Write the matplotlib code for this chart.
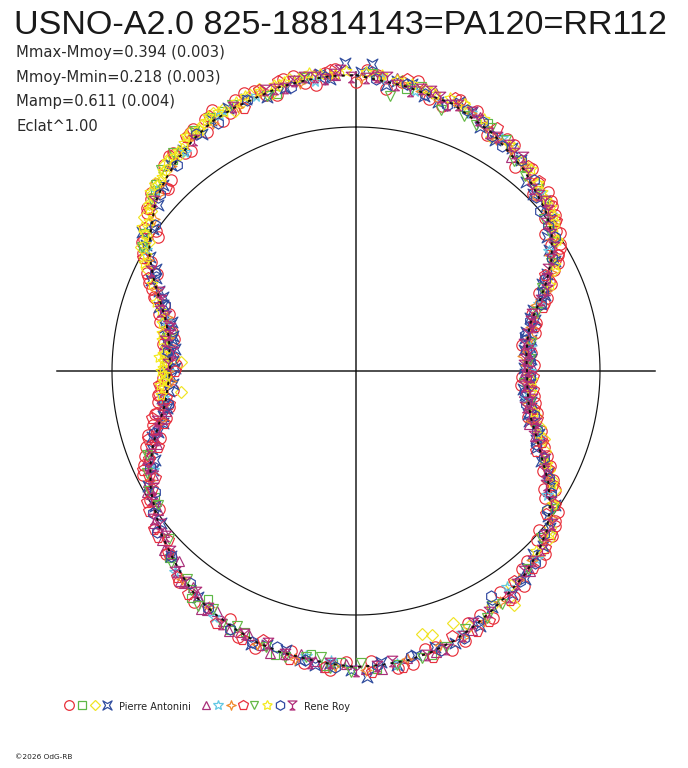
import numpy as np
import matplotlib
matplotlib.use("Agg")
import matplotlib.pyplot as plt
from matplotlib.path import Path

# ---------------- data (angle in degrees clockwise from top, radius = flux in px-like units) -----
title = "USNO-A2.0 825-18814143=PA120=RR112"
stats_lines = ["Mmax-Mmoy=0.394 (0.003)", "Mmoy-Mmin=0.218 (0.003)",
               "Mamp=0.611 (0.004)", "Eclat^1.00"]
observers = ["Pierre Antonini", "Rene Roy"]
footer = "\u00a92026 OdG-RB"

ref_circle_r = 244
axis_r = 299

mean_deg = [0, 10, 20, 30, 40, 45, 50, 55, 60, 65, 70, 75, 80, 85, 90, 95, 100, 105, 110, 115,
            120, 125, 130, 135, 140, 145, 150, 155, 160, 165, 170, 175, 180, 185, 190, 195, 200,
            205, 210, 215, 220, 225, 230, 235, 240, 245, 250, 255, 260, 265, 270, 275, 280, 285,
            290, 295, 300, 305, 310, 315, 320, 325, 330, 335, 340, 345, 350, 355]
mean_r = [296, 289, 284, 274, 262, 254, 248, 239, 226, 210, 194, 180, 174, 171, 171, 172, 175,
          181, 192, 205, 222, 237, 249, 257, 264, 269, 275, 281, 287, 291, 294, 295, 296, 294,
          292, 291, 289, 285, 281, 277, 269, 261, 254, 245, 237, 227, 216, 204, 194, 189, 186,
          187, 190, 197, 209, 224, 239, 250, 262, 270, 277, 283, 288, 290, 291, 294, 295, 296]

PA_circle = [(2,301),(6,284),(12,296),(18,279),(25,287),(33,277),(38,259),(44,262),(47,262),(50,256),
             (52,253),(54,233),(56,246),(58,240),(60,233),(62,229),(64,210),(66,214),(69,205),(72,185),
             (78,183),(84,176),(92,166),(98,180),(103,186),(108,195),(112,203),(116,216),(119,225),(122,222),
             (125,246),(128,252),(131,242),(134,263),(138,256),(142,273),(147,264),(151,282),(156,276),(161,295),
             (166,286),(172,300),(177,290),(185,300),(193,287),(200,295),(207,278),(215,282),(226,264),(235,240),
             (244,237),(248,228),(251,207),(253,218),(256,196),(258,205),(261,200),(264,184),(268,193),(272,180),
             (276,192),(280,185),(284,202),(287,196),(290,215),(293,225),(296,221),(299,243),(302,250),(305,244),
             (308,265),(311,271),(314,262),(317,281),(320,284),(323,275),(326,292),(329,294),(332,283),(336,297),
             (340,298),(344,287),(348,302),(352,289),(356,303),
             (0,289),(4,297),(9,293),(15,282),(21,290),(29,270),(35,276),(41,268),(45,250),(49,259),
             (51,243),(53,249),(55,244),(57,232),(59,238),(61,228),(63,222),(65,213),(67,199),(70,200),
             (75,186),(81,168),(88,178),(95,166),(100,182),(105,178),(110,197),(114,209),(118,212),(121,232),
             (124,228),(127,249),(130,256),(133,248),(136,265),(140,259),(145,276),(153,274),(158,291),(164,287),
             (169,298),(182,291),(190,297),(204,291),(220,275),(238,243),(246,232),(250,223),(255,210),(259,191),
             (263,199),(266,195),(270,191),(274,183),(278,195),(282,188),(286,205),(289,203),(292,220),(295,231),
             (298,232),(301,250),(304,239),(307,262),(310,268),(313,274),(316,266),(319,285),(322,277),(325,290),
             (328,282),(331,298),(334,287),(338,300),(342,290),(346,301),(350,292),(354,300)]
PA_square = [(10,286),(28,281),(95,176),(150,270),(176,299),(183,291),(189,287),(196,295),(203,284),
             (213,272),(225,265),(248,223),(312,271),(319,279),(333,292),(344,288),
             (40,265),(120,224),(165,294),(186,297),(206,288),(216,281),(238,237),(300,246),(326,288)]
PA_diamond = [(296,233),(300,248),(303,250),(306,262),(309,266),(313,275),(316,276),(319,284),(322,282),
              (325,291),(328,290),(331,295),(335,287),(339,296),(343,290),(347,300),(4,296),(15,289),
              (30,270),(40,266),(48,256),(57,240),(63,222),(70,197),(104,186),(110,200),(117,217),
              (121,232),(126,236),(131,256),(144,264),(146,282),(159,270),(164,275),(166,271),(263,176),
              (273,175),(275,192),(282,189),
              (298,240),(302,244),(305,254),(308,260),(311,270),(314,272),(317,281),(321,279),(324,288),
              (327,286),(330,291),(333,294),(337,292),(341,298),(345,296),(350,299),(9,294),(22,288),
              (35,274),(44,260),(53,248),(60,229),(107,192),(113,205),(119,224),(124,238),(129,250),
              (134,259),(150,271),(156,279)]
PA_xstar = [(358,308),(3,307),(8,293),(14,283),(21,288),(27,274),(35,272),(42,254),(49,252),(55,233),
            (61,227),(65,205),(68,204),(71,187),(74,186),(77,174),(80,178),(83,169),(86,175),(89,168),
            (93,174),(96,168),(100,178),(106,180),(109,194),(113,196),(118,218),(124,240),(129,249),(136,255),
            (141,268),(154,284),(168,290),(178,306),(188,297),(194,288),(201,292),(232,247),(241,238),(246,220),
            (252,214),(255,200),(259,193),(262,196),(266,183),(269,189),(271,181),(274,189),(277,182),(279,192),
            (281,186),(283,196),(285,191),(288,207),(291,207),(294,224),(297,225),(301,245),(303,255),(310,258),
            (318,277),(327,282),(334,293),(342,288),(350,298),(355,293),
            (1,299),(6,288),(11,292),(17,281),(24,284),(31,270),(38,268),(45,250),(52,248),(58,228),
            (63,214),(67,203),(70,197),(73,182),(76,181),(79,172),(82,176),(85,173),(88,172),(91,169),
            (94,175),(98,171),(102,179),(104,177),(111,193),(116,206),(121,226),(127,241),(133,256),(139,261),
            (145,272),(150,272),(160,289),(164,287),(172,297),(175,292),(181,299),(185,293),(191,294),(198,288),
            (215,276),(225,262),(236,242),(244,226),(249,218),(253,207),(257,198),(260,195),(264,188),(268,185),
            (270,189),(273,183),(276,186),(278,190),(280,187),(282,194),(284,192),(286,199),(289,204),(292,213),
            (295,221),(299,236),(305,248),(314,268),(322,281),(330,290),(338,293),(346,292),(353,299)]
RR_tri = [(186,298),(191,288),(197,295),(202,285),(206,289),(210,277),(213,284),(217,271),(220,274),
          (223,260),(227,263),(230,251),(233,253),(237,238),(240,241),(243,228),(247,227),(250,212),
          (254,209),(258,194),(262,196),(278,193),(284,192),(88,175),(97,169),(102,180),(107,181),
          (114,206),(139,265),(170,291),(175,299),(352,300),(8,296),(26,283),(36,264),
          (188,293),(194,292),(199,290),(204,286),(208,283),(212,282),(215,275),(219,273),(222,268),
          (225,259),(229,257),(232,253),(235,242),(239,239),(242,236),(245,224),(248,222),(252,212),
          (256,200),(260,196),(91,168),(94,174),(105,183),(110,190),(118,218),(122,226),(156,284),
          (164,292),(178,298),(182,293),(348,298),(356,297),(4,297),(16,289)]
RR_star5 = [(12,286),(32,275),(58,227),(82,176),(99,172),(123,228),(145,264),(172,296),(190,289),
            (210,284),(244,226),(270,188),(300,242),(322,278),(340,293),
            (5,294),(24,282),(46,256),(70,195),(90,174),(110,195),(136,261),(158,283),(185,291),
            (222,270),(262,195),(285,197),(312,269),(332,290),(352,293)]
RR_star4 = [(1,293),(9,292),(17,283),(24,282),(31,271),(39,266),(46,250),(53,246),(59,226),(67,206),
            (73,184),(79,178),(85,168),(91,173),(101,174),(111,197),(120,220),(127,245),(137,258),
            (153,281),(163,287),(178,299),(192,294),(212,278),(260,196),(267,185),(274,190),(286,197),
            (298,236),(307,253),(318,276),(330,286),(341,295),(349,293),
            (5,296),(13,287),(21,285),(28,276),(35,270),(42,259),(50,251),(56,236),(63,219),(70,192),
            (76,180),(82,173),(88,170),(95,174),(106,182),(116,210),(124,236),(132,253),(142,264),
            (148,272),(158,287),(170,292),(184,296),(200,290),(220,271),(242,233),(256,201),(270,188),
            (280,191),(292,216),(312,265),(324,285),(336,289),(355,297)]
RR_pent = [(238,247),(242,228),(245,235),(249,212),(252,219),(255,199),(257,209),(260,190),(263,198),
           (266,197),(270,181),(232,256),(228,253),(221,273),(209,288),(199,285),(171,300),(160,282),
           (152,283),(143,263),(133,259),(127,238),(120,228),(114,197),(105,187),(96,178),(76,184),
           (63,212),(53,250),(44,264),(20,290),(345,300),(337,286),(324,289),(314,264),(304,255),(294,228),
           (236,250),(240,236),(243,232),(247,225),(250,218),(254,209),(258,203),(262,192),(265,194),
           (268,190),(230,258),(226,262),(217,279),(203,291),(193,296),(186,298),(177,301),(165,296),
           (155,287),(146,276),(138,265),(130,254),(124,240),(117,215),(111,199),(102,182),(92,177),
           (71,198),(60,233),(49,255),(40,268),(30,281),(10,296),(355,302),(341,297),(330,294),
           (320,283),(308,263),(298,241),(290,214),(281,196)]
RR_vtri = [(7,277),(18,274),(3,297),(13,291),(23,277),(29,278),(37,263),(45,257),(51,242),(57,237),
           (66,204),(81,177),(94,168),(108,190),(132,249),(148,275),(157,280),(167,295),(179,292),
           (181,301),(187,288),(194,295),(205,281),(214,283),(219,268),(224,267),(236,239),(248,225),
           (280,192),(300,247),(310,268),(316,280),(326,289),(335,294),
           (11,287),(26,274),(33,275),(41,258),(48,254),(54,238),(61,223),(72,190),(86,174),(100,177),
           (116,209),(125,240),(139,262),(152,280),(162,290),(172,297),(185,298),(190,290),(198,290),
           (208,286),(211,278),(217,274),(228,251),(240,239),(244,232),(303,251),(313,273),(320,284),
           (330,292),(342,289),(350,298)]
RR_ystar = [(297,238),(301,246),(304,258),(308,263),(311,273),(315,275),(318,283),(321,283),(324,290),
            (327,289),(330,295),(333,291),(338,297),(346,298),(351,302),(356,298),(5,297),(11,292),
            (16,288),(22,288),(34,273),(41,267),(46,258),(50,255),(54,245),(62,225),(93,176),(103,183),
            (116,213),(124,238),(135,254),(263,196),(266,196),(268,190),(270,195),(272,190),(274,197),
            (277,191),(281,198),(289,211),
            (299,240),(303,252),(306,256),(309,265),(313,272),(316,278),(320,281),(323,286),(326,287),
            (329,292),(332,293),(336,294),(341,296),(344,298),(349,298),(353,299),(358,300),(2,299),
            (8,294),(14,291),(19,289),(27,283),(38,268),(44,262),(48,256),(52,251),(57,240),(66,212),
            (97,176),(109,193),(120,226),(130,253),(265,193),(267,193),(269,192),(271,193),(273,193),
            (275,194),(279,196),(284,200),(287,204),(293,222)]
RR_hex = [(10,291),(19,281),(27,280),(33,268),(43,261),(49,244),(56,240),(64,210),(70,197),(78,173),
          (87,174),(97,170),(104,183),(112,194),(119,221),(126,236),(131,249),(149,263),(158,288),
          (169,290),(184,297),(196,287),(206,287),(218,269),(231,256),(239,235),(253,211),(289,202),
          (306,248),(319,273),(331,284),(347,291),
          (4,293),(14,285),(23,283),(30,271),(38,268),(46,250),(53,241),(60,226),(67,203),(74,181),
          (83,171),(92,174),(101,173),(108,190),(115,207),(122,230),(137,262),(142,266),(154,278),
          (163,292),(176,295),(190,293),(201,290),(212,279),(225,261),(235,248),(245,227),(260,191),
          (276,189),(296,224),(312,264),(326,286),(338,292),(354,296)]
RR_tripod = [(342,295),(346,292),(350,299),(354,294),(357,301),(2,293),(6,296),(11,285),(15,290),(19,281),
             (24,284),(29,272),(34,273),(38,272),(44,253),(48,254),(52,241),(58,234),(62,217),(67,207),
             (72,185),(76,182),(81,170),(84,175),(88,168),(92,175),(95,169),(99,178),(102,173),(106,187),
             (110,189),(115,209),(121,222),(128,249),(134,258),(140,261),(146,273),(155,278),(162,292),
             (173,292),(180,300),(189,296),(198,286),(208,287),(216,273),(222,270),(229,252),(234,251),
             (240,234),(245,230),(251,211),(256,205),(276,184),(279,193),(283,191),(287,205),(292,212),
             (344,293),(348,296),(352,297),(356,298),(359,294),(4,295),(8,289),(13,289),(17,286),(21,285),
             (26,279),(31,273),(36,269),(41,262),(46,254),(50,250),(55,238),(60,225),(64,212),(69,198),
             (74,182),(78,176),(83,173),(86,169),(90,172),(93,170),(97,175),(100,176),(104,178),(108,188),
             (112,198),(118,213),(124,235),(131,250),(137,260),(143,267),(151,275),(158,286),(166,293),
             (176,296),(185,293),(194,292),(203,286),(212,279),(219,272),(226,259),(232,249),(238,242),
             (243,230),(248,221),(254,205),(259,197),(272,188),(281,190),(286,198),(290,208),(296,228),
             (310,264),(325,282),(335,291)]

# ---------------- marker shapes ----------------
def closed(verts):
    return Path(list(verts) + [verts[0]], closed=True)

xstar_marker = closed([(1, 1), (0, 0.42), (-1, 1), (-0.42, 0), (-1, -1), (0, -0.42), (1, -1), (0.42, 0)])
star4_marker = closed([(0, 1), (0.28, 0.28), (1, 0), (0.28, -0.28), (0, -1), (-0.28, -0.28), (-1, 0), (-0.28, 0.28)])
tripod_marker = Path(
    [(-1, 1), (1, 1), (0, 0.15), (0, 0), (0, 0.15), (0, -0.6), (-0.55, -1), (0.55, -1), (0, -0.6), (0, 0)],
    [Path.MOVETO, Path.LINETO, Path.LINETO, Path.CLOSEPOLY, Path.MOVETO, Path.LINETO,
     Path.MOVETO, Path.LINETO, Path.LINETO, Path.CLOSEPOLY])

# (data, marker, color, markersize)
series_PA = [
    (PA_circle, "o", "#e8303a", 8.2),
    (PA_square, "s", "#5cb846", 6.0),
    (PA_diamond, "D", "#f0e424", 5.8),
    (PA_xstar, xstar_marker, "#2f4c9e", 7.8),
]
series_RR = [
    (RR_tri, "^", "#a8307a", 7.4),
    (RR_star5, "*", "#62c8e4", 8.5),
    (RR_star4, star4_marker, "#f08a2c", 8.0),
    (RR_pent, "p", "#e8303e", 8.4),
    (RR_vtri, "v", "#64b846", 7.4),
    (RR_ystar, (5, 1, 0), "#f4ea1c", 8.4),
    (RR_hex, "h", "#3048a0", 8.0),
    (RR_tripod, tripod_marker, "#b02c78", 7.6),
]

# ---------------- figure ----------------
W, H = 688, 768
cx, cy = 356, 371
fig = plt.figure(figsize=(W / 100, H / 100), dpi=100)
fig.patch.set_facecolor("white")

ax = fig.add_axes([(cx - axis_r) / W, (H - cy - axis_r) / H, 2 * axis_r / W, 2 * axis_r / H],
                  projection="polar")
ax.set_theta_zero_location("N")
ax.set_theta_direction(-1)
ax.set_ylim(0, axis_r)
ax.axis("off")

# cross axes
for a in (0, 90, 180, 270):
    ax.plot([np.deg2rad(a)] * 2, [0, axis_r], color="#1e1e1e", lw=1.1, zorder=1, clip_on=False)
# reference circle
tt = np.linspace(0, 2 * np.pi, 721)
ax.plot(tt, np.full_like(tt, ref_circle_r), color="#111111", lw=0.85, zorder=1)

# observations
for data, mk, col, ms in series_PA + series_RR:
    d = np.array(data, dtype=float)
    ax.plot(np.deg2rad(d[:, 0]), d[:, 1], linestyle="none", marker=mk, mfc="none",
            mec=col, mew=0.85, ms=ms, zorder=3, clip_on=False)

# mean light curve (dotted, over the observations)
md = np.deg2rad(np.array(mean_deg + [mean_deg[0] + 360], dtype=float))
mr = np.array(mean_r + [mean_r[0]], dtype=float)
ax.plot(md, mr, color="#111111", lw=1.4, dashes=(1.6, 2.6), zorder=4)

# ---------------- texts and legend (pixel overlay) ----------------
ov = fig.add_axes([0, 0, 1, 1])
ov.set_xlim(0, W)
ov.set_ylim(H, 0)
ov.axis("off")

ov.text(14, 34, title, fontsize=24.6, family="Liberation Sans", color="#1a1a1a",
        ha="left", va="baseline")
for i, s in enumerate(stats_lines):
    ov.text(16.5, 57 + 24.7 * i, s, fontsize=10.6, family="DejaVu Sans", color="#2a2a2a",
            ha="left", va="baseline")

leg_y = 705
pa_x = [69, 82, 95, 107]
rr_x = [206, 218, 231, 243, 254, 267, 280, 292]
for (data, mk, col, ms), x in zip(series_PA, pa_x):
    ov.plot([x], [leg_y], linestyle="none", marker=mk, mfc="none", mec=col, mew=0.9, ms=ms * 0.85)
for (data, mk, col, ms), x in zip(series_RR, rr_x):
    ov.plot([x], [leg_y], linestyle="none", marker=mk, mfc="none", mec=col, mew=0.9, ms=ms * 0.85)
ov.text(119, 709.5, observers[0], fontsize=7.0, family="DejaVu Sans", color="#222222",
        ha="left", va="baseline")
ov.text(304, 709.5, observers[1], fontsize=7.0, family="DejaVu Sans", color="#222222",
        ha="left", va="baseline")

ov.text(15, 759, footer, fontsize=5.3, family="DejaVu Sans", color="#222222",
        ha="left", va="baseline")

fig.savefig("out.png", dpi=100, facecolor="white")
